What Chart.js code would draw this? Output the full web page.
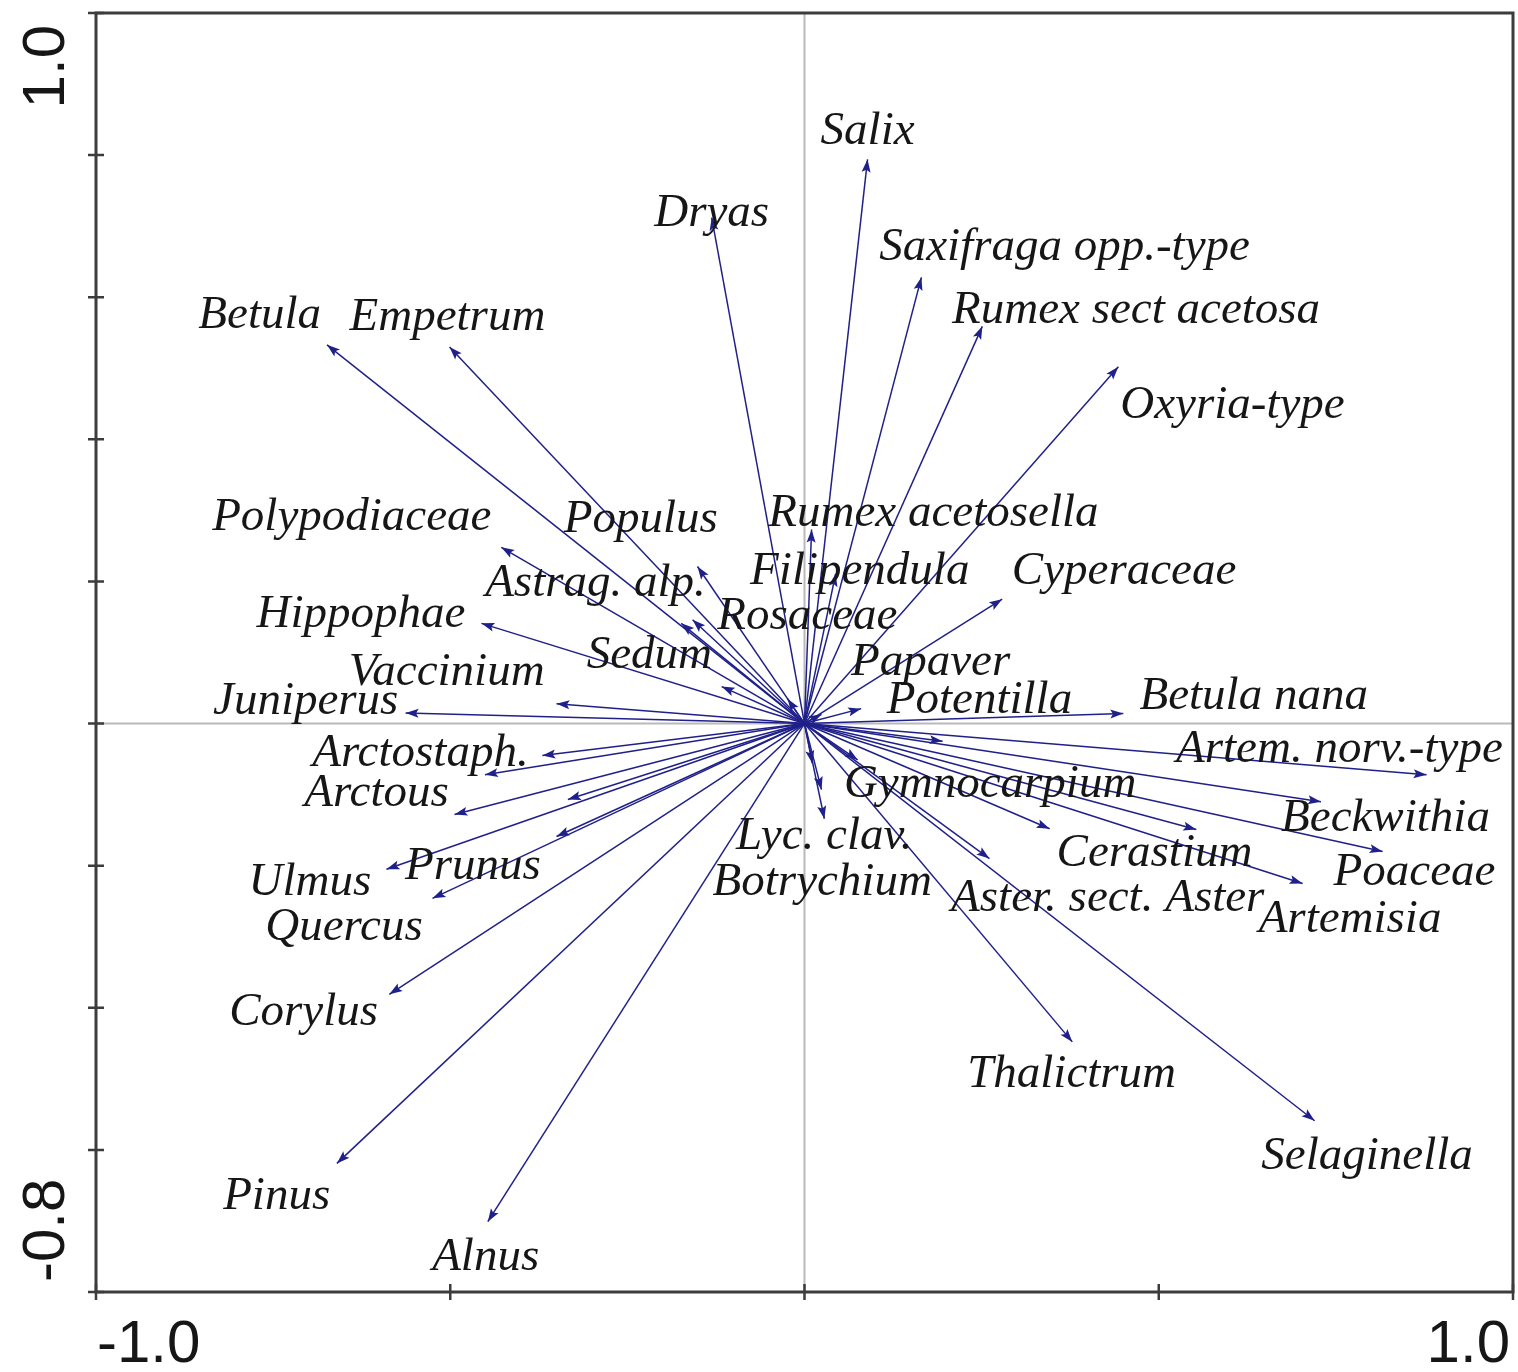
<!DOCTYPE html>
<html>
<head>
<meta charset="utf-8">
<script src="https://cdn.jsdelivr.net/npm/chart.js@4"></script>
<style>
  html, body { margin: 0; padding: 0; background: #ffffff; }
  canvas { display: block; }
</style>
</head>
<body>
<canvas id="biplot" width="1518" height="1372"></canvas>
<script>
// Species vectors (axis 1 / axis 2 loadings); '' marks vectors drawn without a name
const species = [
  'Salix', 'Dryas', 'Saxifraga opp.-type', 'Rumex sect acetosa', 'Oxyria-type',
  'Betula', 'Empetrum', 'Polypodiaceae', 'Hippophae', 'Populus',
  'Astrag. alp.', 'Rosaceae', 'Sedum', 'Filipendula', 'Rumex acetosella',
  '', 'Papaver', 'Potentilla', 'Cyperaceae', 'Vaccinium',
  'Juniperus', 'Betula nana', 'Arctostaph.', '', 'Arctous',
  '', 'Prunus', 'Ulmus', 'Quercus', 'Corylus',
  'Pinus', 'Alnus', 'Lyc. clav.', 'Botrychium', '',
  'Gymnocarpium', '', 'Cerastium', 'Beckwithia', 'Artem. norv.-type',
  'Poaceae', 'Artemisia', 'Aster. sect. Aster', 'Thalictrum', 'Selaginella',
  ''
];
const axis1 = [
  0.089, -0.131, 0.165, 0.251, 0.443,
  -0.674, -0.501, -0.428, -0.456, -0.151,
  -0.174, -0.158, -0.117, 0.044, 0.010,
  -0.024, 0.024, 0.080, 0.279, -0.350,
  -0.563, 0.450, -0.370, -0.451, -0.494,
  -0.334, -0.350, -0.590, -0.525, -0.586,
  -0.660, -0.447, 0.028, 0.024, 0.011,
  0.075, 0.195, 0.553, 0.729, 0.878,
  0.816, 0.703, 0.261, 0.378, 0.720,
  0.346
];
const axis2 = [
  0.794, 0.712, 0.628, 0.559, 0.502,
  0.533, 0.530, 0.248, 0.141, 0.221,
  0.141, 0.146, 0.052, 0.211, 0.273,
  0.035, 0.013, 0.021, 0.175, 0.028,
  0.015, 0.014, -0.045, -0.072, -0.128,
  -0.107, -0.159, -0.205, -0.246, -0.381,
  -0.619, -0.701, -0.134, -0.093, -0.056,
  -0.051, -0.025, -0.149, -0.110, -0.072,
  -0.180, -0.225, -0.190, -0.448, -0.559,
  -0.148
];

// Where each species name sits, in axis units
const labelAxis1 = [
  0.089, -0.131, 0.367, 0.468, 0.604,
  -0.769, -0.504, -0.639, -0.626, -0.231,
  -0.295, 0.004, -0.219, 0.078, 0.182,
  null, 0.178, 0.247, 0.451, -0.505,
  -0.704, 0.634, -0.542, null, -0.604,
  null, -0.468, -0.698, -0.650, -0.707,
  -0.745, -0.450, 0.028, 0.025, null,
  0.262, null, 0.494, 0.820, 0.755,
  0.861, 0.770, 0.428, 0.377, 0.794,
  null
];
const labelAxis2 = [
  0.833, 0.718, 0.670, 0.581, 0.448,
  0.574, 0.571, 0.290, 0.153, 0.287,
  0.197, 0.151, 0.096, 0.214, 0.296,
  null, 0.086, 0.032, 0.214, 0.072,
  0.031, 0.038, -0.042, null, -0.099,
  null, -0.201, -0.224, -0.287, -0.407,
  -0.666, -0.751, -0.159, -0.224, null,
  -0.086, null, -0.183, -0.134, -0.037,
  -0.210, -0.276, -0.246, -0.494, -0.609,
  null
];

// Axis ticks and the labelled end values
const xTickValues = [-1.0, -0.5, 0.0, 0.5, 1.0];
const yTickValues = [1.0, 0.8, 0.6, 0.4, 0.2, 0.0, -0.2, -0.4, -0.6, -0.8];
const xEndValues = [-1.0, 1.0];
const xEndLabels = ['-1.0', '1.0'];
const yEndValues = [1.0, -0.8];
const yEndLabels = ['1.0', '-0.8'];

const ARROW = 'rgb(32, 32, 138)';
const FRAME = '#3c3c3c';
const ZERO = '#b9b9b9';
const TEXT = '#161616';

const biplotPlugin = {
  id: 'biplot',
  beforeDatasetsDraw(chart) {
    const { ctx, chartArea: a, scales: { x, y } } = chart;
    ctx.save();
    ctx.strokeStyle = ZERO;
    ctx.lineWidth = 2;
    const x0 = x.getPixelForValue(0), y0 = y.getPixelForValue(0);
    ctx.beginPath();
    ctx.moveTo(x0, a.top); ctx.lineTo(x0, a.bottom);
    ctx.moveTo(a.left, y0); ctx.lineTo(a.right, y0);
    ctx.stroke();
    ctx.restore();
  },
  afterDatasetsDraw(chart) {
    const { ctx, chartArea: a, scales: { x, y } } = chart;
    ctx.save();
    // arrowheads at the tip of every vector
    ctx.fillStyle = ARROW;
    chart.data.datasets.forEach((ds, i) => {
      const pts = chart.getDatasetMeta(i).data;
      const p0 = pts[0], p1 = pts[1];
      const ang = Math.atan2(p1.y - p0.y, p1.x - p0.x);
      const len = 13, half = 4.5;
      ctx.save();
      ctx.translate(p1.x, p1.y);
      ctx.rotate(ang);
      ctx.beginPath();
      ctx.moveTo(0, 0);
      ctx.lineTo(-len, -half);
      ctx.lineTo(-len * 0.8, 0);
      ctx.lineTo(-len, half);
      ctx.closePath();
      ctx.fill();
      ctx.restore();
    });

    // species names
    ctx.fillStyle = TEXT;
    ctx.font = 'italic 47px "Liberation Serif", "Times New Roman", serif';
    ctx.textAlign = 'center';
    ctx.textBaseline = 'middle';
    species.forEach((name, i) => {
      if (!name || labelAxis1[i] === null) return;
      ctx.fillText(name, x.getPixelForValue(labelAxis1[i]), y.getPixelForValue(labelAxis2[i]));
    });

    // frame and ticks
    ctx.strokeStyle = FRAME;
    ctx.lineWidth = 3;
    ctx.strokeRect(a.left, a.top, a.right - a.left, a.bottom - a.top);
    ctx.lineWidth = 2.5;
    ctx.beginPath();
    xTickValues.forEach(v => {
      const px = x.getPixelForValue(v);
      ctx.moveTo(px, a.bottom - 8); ctx.lineTo(px, a.bottom + 8);
    });
    yTickValues.forEach(v => {
      const py = y.getPixelForValue(v);
      ctx.moveTo(a.left - 8, py); ctx.lineTo(a.left + 8, py);
    });
    ctx.stroke();

    // end labels of the axes
    ctx.fillStyle = TEXT;
    ctx.font = '60px "Liberation Sans", Arial, sans-serif';
    ctx.textBaseline = 'alphabetic';
    xEndValues.forEach((v, i) => {
      const px = x.getPixelForValue(v);
      ctx.textAlign = i === 0 ? 'left' : 'right';
      ctx.fillText(xEndLabels[i], i === 0 ? px + 1 : px - 3, a.bottom + 70);
    });
    yEndValues.forEach((v, i) => {
      const py = y.getPixelForValue(v);
      ctx.save();
      ctx.translate(a.left - 32, py);
      ctx.rotate(-Math.PI / 2);
      ctx.textAlign = i === 0 ? 'right' : 'left';
      ctx.fillText(yEndLabels[i], i === 0 ? -12 : 10, 0);
      ctx.restore();
    });
    ctx.restore();
  }
};

const datasets = axis1.map((v, i) => ({
  label: species[i],
  data: [{ x: 0, y: 0 }, { x: v, y: axis2[i] }],
  showLine: true,
  borderColor: ARROW,
  borderWidth: 1.5,
  pointRadius: 0,
  pointHoverRadius: 0,
  fill: false
}));

new Chart(document.getElementById('biplot').getContext('2d'), {
  type: 'scatter',
  data: { datasets },
  options: {
    responsive: false,
    animation: false,
    devicePixelRatio: 1,
    events: [],
    layout: { padding: { left: 96, right: 5, top: 13, bottom: 80 } },
    plugins: { legend: { display: false }, tooltip: { enabled: false } },
    scales: {
      x: { type: 'linear', min: -1.0, max: 1.0, display: false },
      y: { type: 'linear', min: -0.8, max: 1.0, display: false }
    }
  },
  plugins: [biplotPlugin]
});
</script>
</body>
</html>
